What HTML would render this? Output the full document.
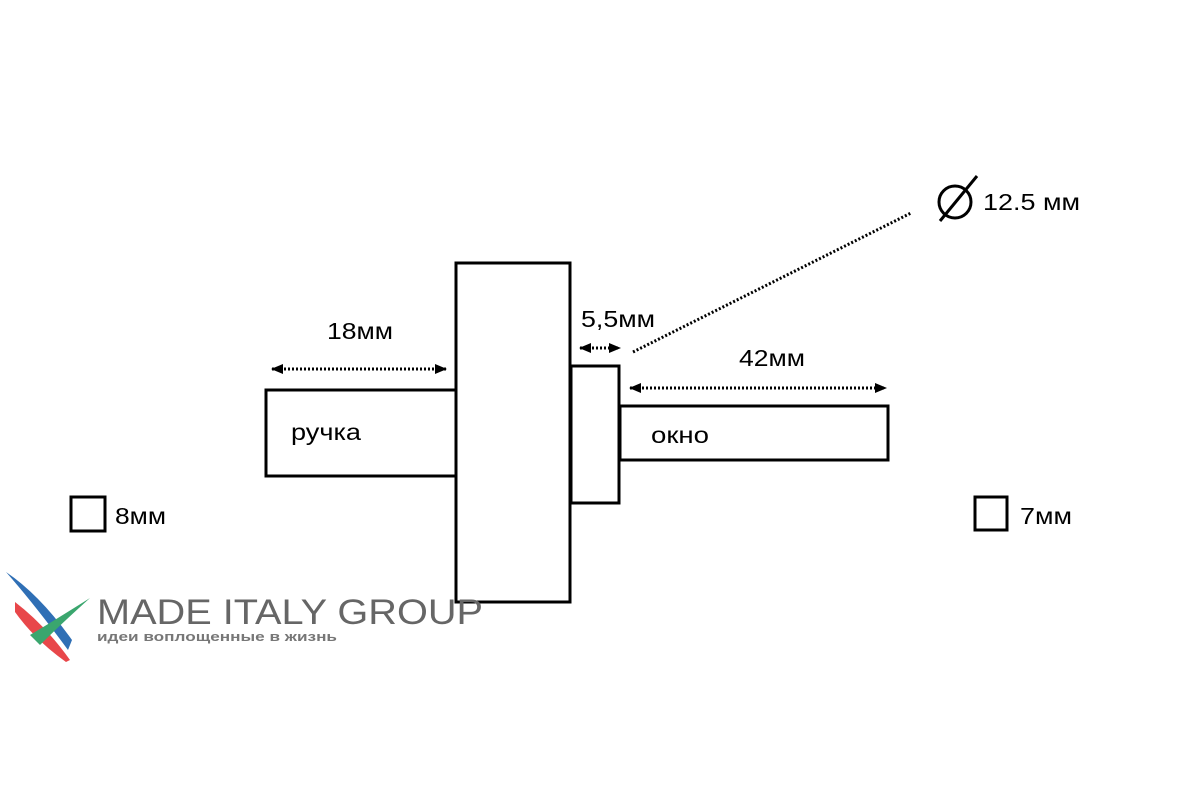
<!DOCTYPE html>
<html><head><meta charset="utf-8"><style>
html,body{margin:0;padding:0;background:#fff;}
svg text{font-family:"Liberation Sans",sans-serif;}
</style></head><body>
<svg width="1200" height="800" viewBox="0 0 1200 800" xmlns="http://www.w3.org/2000/svg">
<defs>
<marker id="b" markerWidth="12" markerHeight="10" refX="11" refY="5" orient="auto-start-reverse" markerUnits="userSpaceOnUse" viewBox="0 0 12 10"><path d="M0,0 L12,5 L0,10z" fill="#000"/></marker>
</defs>
<g fill="none" stroke="#000" stroke-width="3">
<rect x="266" y="390" width="190" height="86"/>
<rect x="456" y="263" width="114" height="339"/>
<rect x="571" y="366" width="48" height="137"/>
<rect x="620" y="406" width="268" height="54"/>
<rect x="71" y="497" width="34" height="34"/>
<rect x="975" y="497" width="32" height="33"/>
</g>
<g stroke="#000" stroke-width="3" stroke-dasharray="2 2" fill="none">
<line x1="272" y1="369" x2="446" y2="369" marker-start="url(#b)" marker-end="url(#b)"/>
<line x1="630" y1="388" x2="886" y2="388" marker-start="url(#b)" marker-end="url(#b)"/>
<line x1="580" y1="348" x2="620" y2="348" marker-start="url(#b)" marker-end="url(#b)"/>
<line x1="633" y1="352" x2="911" y2="213"/>
</g>
<circle cx="955" cy="202" r="16" fill="none" stroke="#000" stroke-width="3"/>
<line x1="940" y1="221" x2="977" y2="176" stroke="#000" stroke-width="3"/>
<g font-size="23" fill="#000" lengthAdjust="spacingAndGlyphs">
<text x="327" y="339" textLength="66" lengthAdjust="spacingAndGlyphs">18мм</text>
<text x="581" y="327" textLength="74" lengthAdjust="spacingAndGlyphs">5,5мм</text>
<text x="739" y="366" textLength="66" lengthAdjust="spacingAndGlyphs">42мм</text>
<text x="983" y="210" textLength="97" lengthAdjust="spacingAndGlyphs">12.5 мм</text>
<text x="291" y="440" textLength="70" lengthAdjust="spacingAndGlyphs">ручка</text>
<text x="651" y="443" textLength="58" lengthAdjust="spacingAndGlyphs">окно</text>
<text x="115" y="524" textLength="51" lengthAdjust="spacingAndGlyphs">8мм</text>
<text x="1020" y="524" textLength="52" lengthAdjust="spacingAndGlyphs">7мм</text>
</g>
<path d="M6,572 Q40,595 72,640 L68,650 Q35,605 6,572z" fill="#2f6fb5"/>
<path d="M15,602 Q45,625 70,660 L66,662 Q35,640 15,612z" fill="#e8474a"/>
<path d="M30,635 Q55,620 90,598 Q60,625 40,645z" fill="#3aa66e"/>
<text x="97" y="624" font-size="35" fill="#666" textLength="386" lengthAdjust="spacingAndGlyphs">MADE ITALY GROUP</text>
<text x="97" y="641" font-size="13" fill="#777" font-weight="bold" textLength="240" lengthAdjust="spacingAndGlyphs">идеи воплощенные в жизнь</text>
</svg>
</body></html>
